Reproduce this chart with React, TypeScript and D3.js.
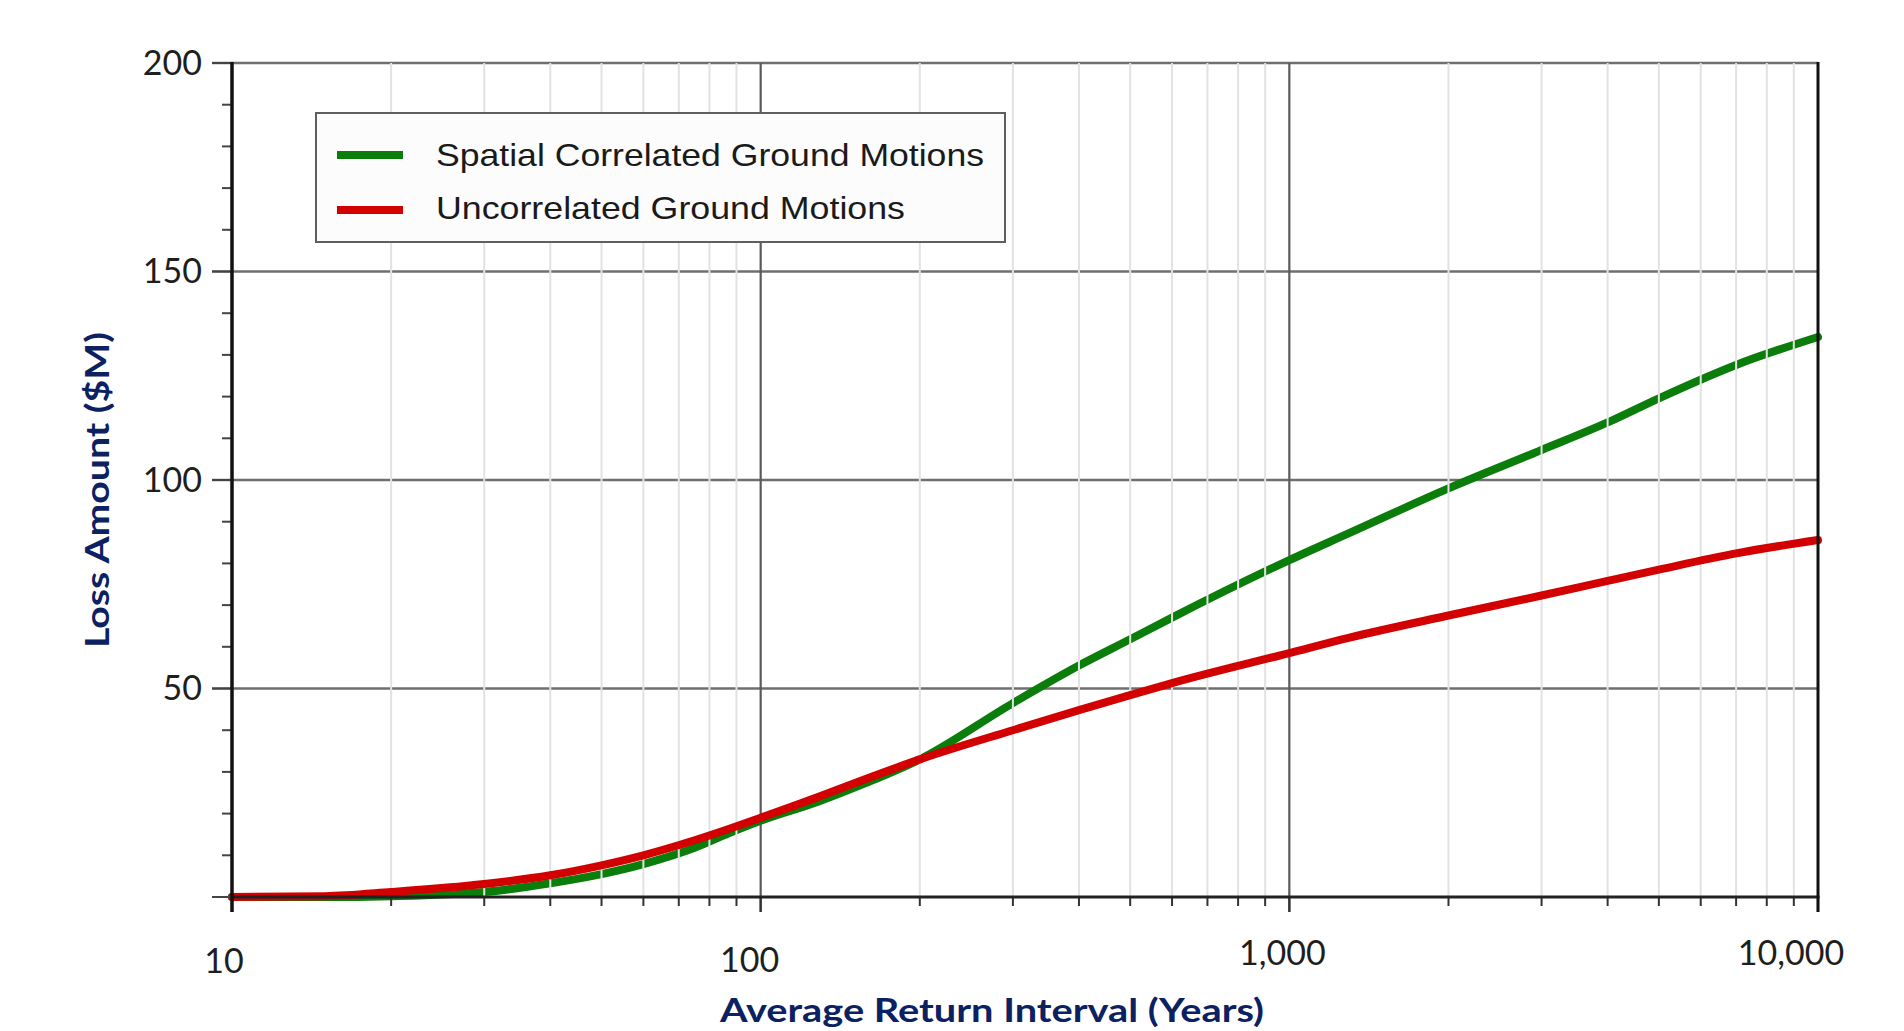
import React from "react";
import * as d3 from "d3";

// ---- data ----
const returnPeriods = [10, 15, 20, 30, 40, 50, 60, 75, 87, 100, 128, 158, 200, 300, 400, 500, 600, 1000, 1300, 2000, 3000, 4000, 5000, 7000, 10000];
const spatialCorrelated = [0, 0, 0.2, 1.2, 3.3, 5.5, 7.9, 11.8, 15.3, 18.3, 22.8, 27.3, 33, 46.5, 55.5, 61.8, 67, 80.8, 87.3, 98, 107.2, 113.8, 119.6, 127.6, 134.3];
const uncorrelated = [0, 0.2, 1.2, 3.1, 5.2, 7.6, 10, 13.6, 16.3, 19, 23.9, 28.3, 33, 40, 44.8, 48.4, 51.3, 58.5, 62.2, 67.5, 72.3, 75.8, 78.5, 82.4, 85.6];

const seriesNames = ["Spatial Correlated Ground Motions", "Uncorrelated Ground Motions"];
const seriesColors = ["#0a7d0a", "#d20000"];

const xMajorTicks = [10, 100, 1000, 10000];
const xTickLabels = ["10", "100", "1,000", "10,000"];
const yMajorTicks = [50, 100, 150, 200];
const yTickLabels = ["50", "100", "150", "200"];
const yMinorStep = 10;

const xTitle = "Average Return Interval (Years)";
const yTitle = "Loss Amount ($M)";

// ---- layout / style ----
const W = 1904;
const H = 1031;
const L = 232, R = 1818, T = 63, B = 897;
const labelDx = [-8, -11, -7, -27];
const labelY = [973, 972, 965, 965];
const navy = "#0b2161";

export default function App() {
  const x = d3.scaleLog().domain([10, 10000]).range([L, R]);
  const y = d3.scaleLinear().domain([0, 200]).range([B, T]);

  const minorX: number[] = [];
  for (let p = 10; p < 10000; p *= 10) {
    for (let k = 2; k <= 9; k++) minorX.push(k * p);
  }
  const minorY = d3.range(0, 200 + 1e-9, yMinorStep);

  const line = d3
    .line<[number, number]>()
    .x((d) => x(d[0]))
    .y((d) => y(d[1]))
    .curve(d3.curveMonotoneX);

  const greenPath = line(returnPeriods.map((v, i) => [v, spatialCorrelated[i]]) as [number, number][]) || "";
  const redPath = line(returnPeriods.map((v, i) => [v, uncorrelated[i]]) as [number, number][]) || "";

  const tickFont = "Lato, 'Open Sans', sans-serif";

  return (
    <svg
      width={W}
      height={H}
      style={{ position: "absolute", left: 0, top: 0, background: "#fff" }}
    >
      <rect x={0} y={0} width={W} height={H} fill="#fff" />

      {/* horizontal gridlines */}
      {yMajorTicks.map((v) => (
        <line key={"hg" + v} x1={L - 20} x2={R} y1={y(v)} y2={y(v)} stroke="#6f6f6f" strokeWidth={2.5} />
      ))}
      {/* major vertical gridlines */}
      {xMajorTicks.slice(1, -1).map((v) => (
        <line key={"vg" + v} x1={x(v)} x2={x(v)} y1={T} y2={B + 15} stroke="#5a5a5a" strokeWidth={2.2} />
      ))}

      {/* green series */}
      <path d={greenPath} fill="none" stroke={seriesColors[0]} strokeWidth={8} strokeLinejoin="round" strokeLinecap="round" />

      {/* minor vertical gridlines (drawn over the green curve, as in the reference) */}
      {minorX.map((v) => (
        <line key={"mg" + v} x1={x(v)} x2={x(v)} y1={T} y2={B} stroke="#e2e2e2" strokeWidth={2} />
      ))}

      {/* red series */}
      <path d={redPath} fill="none" stroke={seriesColors[1]} strokeWidth={8} strokeLinejoin="round" strokeLinecap="round" />

      {/* x ticks */}
      {minorX.map((v) => (
        <line key={"xt" + v} x1={x(v)} x2={x(v)} y1={B} y2={B + 9} stroke="#333" strokeWidth={2} />
      ))}
      {xMajorTicks.map((v) => (
        <line key={"xT" + v} x1={x(v)} x2={x(v)} y1={B} y2={B + 15} stroke="#333" strokeWidth={2.2} />
      ))}

      {/* y ticks */}
      {minorY.map((v) => (
        <line key={"yt" + v} x1={L - (v % 50 === 0 ? 20 : 10)} x2={L} y1={y(v)} y2={y(v)} stroke="#444" strokeWidth={2} />
      ))}

      {/* axes frame */}
      <line x1={L} x2={R + 1.5} y1={B} y2={B} stroke="#222" strokeWidth={3} />
      <line x1={L} x2={L} y1={T - 1} y2={B + 15} stroke="#111" strokeWidth={3.5} />
      <line x1={R} x2={R} y1={T - 1} y2={B + 15} stroke="#111" strokeWidth={3} />

      {/* y tick labels */}
      {yMajorTicks.map((v, i) => (
        <text
          key={"yl" + v}
          x={202}
          y={y(v) + 3}
          textAnchor="end"
          dominantBaseline="middle"
          fontFamily={tickFont}
          fontSize={34}
          fill="#1e1e1e"
        >
          {yTickLabels[i]}
        </text>
      ))}

      {/* x tick labels */}
      {xMajorTicks.map((v, i) => (
        <text
          key={"xl" + v}
          x={x(v) + labelDx[i]}
          y={labelY[i]}
          textAnchor="middle"
          fontFamily={tickFont}
          fontSize={34}
          fill="#1e1e1e"
        >
          {xTickLabels[i]}
        </text>
      ))}

      {/* axis titles */}
      <text
        x={992}
        y={1022}
        textAnchor="middle"
        fontFamily={tickFont}
        fontWeight="bold"
        fontSize={33}
        fill={navy}
        textLength={544}
        lengthAdjust="spacingAndGlyphs"
      >
        {xTitle}
      </text>
      <text
        transform="translate(109,490) rotate(-90)"
        textAnchor="middle"
        fontFamily={tickFont}
        fontWeight="bold"
        fontSize={33}
        fill={navy}
        textLength={316}
        lengthAdjust="spacingAndGlyphs"
      >
        {yTitle}
      </text>

      {/* legend */}
      <rect x={316} y={113} width={689} height={129} fill="#fcfcfc" stroke="#5f5f5f" strokeWidth={2} />
      {seriesNames.map((name, i) => (
        <g key={name}>
          <line x1={337} x2={403} y1={155 + i * 55} y2={155 + i * 55} stroke={seriesColors[i]} strokeWidth={8} />
          <text
            x={436}
            y={166 + i * 53}
            fontFamily="'Liberation Sans', Arial, sans-serif"
            fontSize={32}
            fill="#1a1a1a"
            textLength={i === 0 ? 548 : 469}
            lengthAdjust="spacingAndGlyphs"
          >
            {name}
          </text>
        </g>
      ))}
    </svg>
  );
}
